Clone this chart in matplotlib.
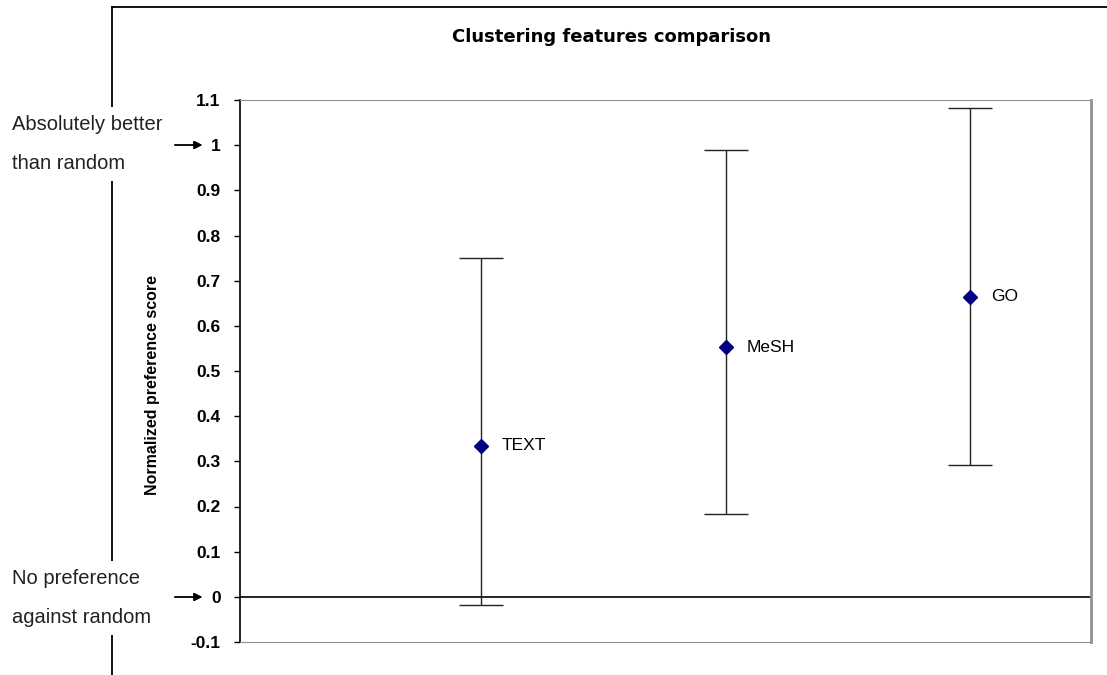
import matplotlib.pyplot as plt
from matplotlib.lines import Line2D

# values
features = ["TEXT", "MeSH", "GO"]
positions = [1, 2, 3]
scores = [0.334, 0.553, 0.664]
upper = [0.750, 0.989, 1.082]
lower = [-0.018, 0.183, 0.292]
yticks = [-0.1, 0, 0.1, 0.2, 0.3, 0.4, 0.5, 0.6, 0.7, 0.8, 0.9, 1, 1.1]
ytick_labels = ["-0.1", "0", "0.1", "0.2", "0.3", "0.4", "0.5", "0.6",
                "0.7", "0.8", "0.9", "1", "1.1"]

W, H = 1107, 675
plt.rcParams["font.family"] = ["Liberation Sans", "DejaVu Sans"]


def fx(x):
    return x / W


def fy(y):
    return 1 - y / H


fig = plt.figure(figsize=(W / 100, H / 100), dpi=100)
fig.patch.set_facecolor("white")

# outer chart frame (left and top edges visible)
fig.add_artist(Line2D([fx(112), fx(112)], [fy(7), fy(680)], color="black", lw=1.3))
fig.add_artist(Line2D([fx(112), fx(1110)], [fy(7), fy(7)], color="black", lw=1.3))

ax = fig.add_axes([fx(240), fy(642), fx(1091) - fx(240), fy(100) - fy(642)])
ax.set_xlim(0.014, 3.495)
ax.set_ylim(-0.1, 1.1)

err_low = [s - l for s, l in zip(scores, lower)]
err_high = [u - s for s, u in zip(scores, upper)]
ax.errorbar(positions, scores, yerr=[err_low, err_high], fmt="none",
            ecolor="#222222", elinewidth=1.0, capsize=15.5, capthick=1.0, zorder=2)
ax.plot(positions, scores, "D", color="#000080", markersize=7, zorder=3)
for x, s, name in zip(positions, scores, features):
    ax.annotate(name, (x, s), xytext=(15, 0), textcoords="offset points",
                va="center", ha="left", fontsize=12.5)

ax.axhline(0, color="black", lw=1.2, zorder=1)

ax.set_xticks([])
ax.set_yticks(yticks)
ax.set_yticklabels(ytick_labels, fontweight="bold", fontsize=12.5)
ax.tick_params(axis="y", direction="out", length=4, width=1, pad=10)
ax.spines["left"].set_color("black")
ax.spines["left"].set_linewidth(1.2)
ax.spines["top"].set_color("#909090")
ax.spines["bottom"].set_color("#909090")
ax.spines["right"].set_color("#909090")
ax.spines["right"].set_linewidth(2)

fig.text(fx(611), fy(37), "Clustering features comparison", ha="center", va="center",
         fontsize=13, fontweight="bold", family="DejaVu Sans")
fig.text(fx(153), fy(385), "Normalized preference score", rotation=90,
         ha="center", va="center", fontsize=11.5, fontweight="bold")

# side annotations, white box hides the frame line behind them
box = dict(facecolor="white", edgecolor="none", pad=6)
fig.text(fx(12), fy(144), "Absolutely better\nthan random", ha="left", va="center",
         fontsize=14.5, linespacing=2.3, color="#222222", bbox=box)
fig.text(fx(12), fy(598), "No preference\nagainst random", ha="left", va="center",
         fontsize=14.5, linespacing=2.3, color="#222222", bbox=box)
arrow = dict(arrowstyle="-|>", color="black", lw=1.0, mutation_scale=12)
fig.add_artist(plt.annotate("", xy=(fx(205), fy(145)), xytext=(fx(172), fy(145)),
                            xycoords="figure fraction", arrowprops=arrow))
fig.add_artist(plt.annotate("", xy=(fx(205), fy(597)), xytext=(fx(172), fy(597)),
                            xycoords="figure fraction", arrowprops=arrow))

plt.savefig("out.png", dpi=100)
